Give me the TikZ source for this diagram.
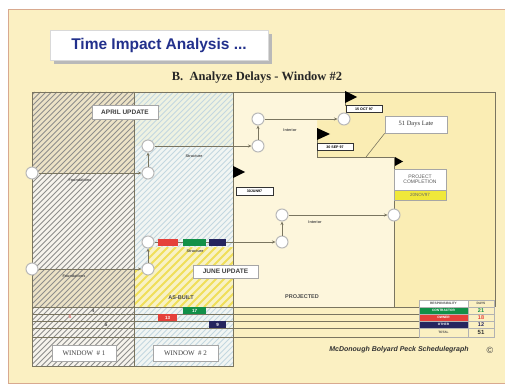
\documentclass[tikz,border=0pt]{standalone}
\usepackage{fontspec}
\setmainfont{Liberation Serif}
\setsansfont{Liberation Sans}
\usetikzlibrary{arrows.meta}

\definecolor{panel}{HTML}{FBF0C2}
\definecolor{panelborder}{HTML}{D8A98F}
\definecolor{proj}{HTML}{FAEDB4}
\definecolor{projlight}{HTML}{FDF6DC}
\definecolor{winone}{HTML}{F6F3EC}
\definecolor{winonebeige}{HTML}{ECE2C6}
\definecolor{wintwo}{HTML}{F1F5F3}
\definecolor{wintwotop}{HTML}{EEF2E2}
\definecolor{hatchone}{HTML}{8E8E8C}
\definecolor{hatchtwo}{HTML}{C3D7E0}
\definecolor{asbuilt}{HTML}{F8F2C6}
\definecolor{hatchyel}{HTML}{F0DF5A}
\definecolor{cred}{HTML}{E5403A}
\definecolor{cgreen}{HTML}{129048}
\definecolor{cnavy}{HTML}{25255F}
\definecolor{titleblue}{HTML}{22308C}
\definecolor{lineg}{HTML}{7A7560}
\definecolor{cyel}{HTML}{F0E83A}

\tikzset{
  ev/.style={circle, draw=gray!55, line width=1pt, fill=white, minimum size=12pt, inner sep=0pt},
  conn/.style={draw=lineg, line width=0.7pt, -{Stealth[length=3.5pt,width=3pt]}},
  datebox/.style={draw=black!80, line width=.5pt, fill=white, font=\sffamily\bfseries\fontsize{3.6}{4}\selectfont, inner sep=0pt, minimum width=36pt, minimum height=7pt},
  updbox/.style={draw=gray!70, line width=.8pt, fill=white, font=\sffamily\bfseries\fontsize{6.5}{7}\selectfont, text=black!75, minimum width=66pt, minimum height=14pt, inner sep=0pt},
  tinylab/.style={font=\sffamily\bfseries\fontsize{3.8}{4}\selectfont, text=black!70},
  zonelab/.style={font=\sffamily\bfseries\fontsize{5.5}{6}\selectfont, text=black!70},
  winbox/.style={draw=gray!70, line width=.6pt, fill=white, font=\fontsize{7}{8}\selectfont, text=black!75, minimum width=64pt, minimum height=16pt, inner sep=0pt},
  daybox/.style={font=\sffamily\bfseries\fontsize{4.5}{5}\selectfont, text=white, minimum height=7pt, inner sep=0pt},
  tcell/.style={font=\sffamily\bfseries\fontsize{3.2}{4}\selectfont, minimum height=7pt, inner sep=0pt, draw=gray!60, line width=.3pt},
  flagtri/.style={fill=black},
  gridline/.style={draw=lineg, line width=.6pt}
}

\begin{document}
\begin{tikzpicture}[x=1pt,y=-1pt]
\clip (0,0) rectangle (505,385);
\useasboundingbox (0,0) rectangle (505,385);
\fill[white] (0,0) rectangle (505,385);
% panel
\fill[panel] (8,10) rectangle (510,383);
\draw[panelborder, line width=1pt] (510,10) -- (8,10) -- (8,383) -- (510,383);

% title
\fill[gray!55] (54,34) rectangle (272,64);
\node[draw=gray!30, fill=white, minimum width=218pt, minimum height=30pt, inner sep=0pt,
      font=\sffamily\bfseries\fontsize{15.5}{17}\selectfont, text=titleblue] (title) at (159,45) {Time Impact Analysis ...};
\node[font=\bfseries\fontsize{12.5}{14}\selectfont, text=black!85] (sub) at (257,78) {B.\ \ Analyze Delays - Window \#2};

% window 1
\fill[winone] (32,92) rectangle (134,366);
\fill[winonebeige] (32,92) rectangle (134,173);
\fill[winonebeige] (32,269) rectangle (134,307);
\begin{scope}
\clip (32,92) rectangle (134,366);
\foreach \k in {-250,-244.5,...,140} \draw[hatchone, line width=.9pt] (\k,366) -- (\k+274,92);
\end{scope}
% window 2
\fill[wintwo] (134,92) rectangle (233,366);
\fill[wintwotop] (134,92) rectangle (233,146);
\begin{scope}
\clip (134,92) rectangle (233,366);
\foreach \k in {-150,-144.5,...,240} \draw[hatchtwo, line width=.9pt] (\k,366) -- (\k+274,92);
\end{scope}
\fill[asbuilt] (149,247) -- (233,247) -- (233,307) -- (134,307) -- (134,269) -- (149,269) -- cycle;
\begin{scope}
\clip (149,247) -- (233,247) -- (233,307) -- (134,307) -- (134,269) -- (149,269) -- cycle;
\foreach \k in {60,68,...,240} \draw[hatchyel, line width=1.8pt] (\k,307) -- (\k+60,247);
\end{scope}

% projected
\fill[proj] (233,92) rectangle (495,307);
\fill[projlight] (233,92) -- (345,92) -- (345,120) -- (317,120) -- (317,157) -- (394,157) -- (394,307) -- (233,307) -- cycle;

% frame and grid
\draw[gridline] (233,92) -- (495,92) -- (495,307);
\draw[gridline] (32,92) rectangle (233,366);
\draw[gridline] (134,92) -- (134,366);
\draw[gridline] (233,92) -- (233,366);
\draw[gridline] (32,307) -- (495,307);
\foreach \yy in {314,321,328,337} \draw[gridline, line width=.5pt] (32,\yy) -- (419,\yy);
\draw[gridline] (317,128) -- (317,157) -- (394,157) -- (394,307);
\draw[gridline] (345,92) -- (345,106);

% flags
\fill[flagtri] (345,91) -- (357,97) -- (345,103) -- cycle;
\fill[flagtri] (317,128) -- (330,134) -- (317,140) -- cycle;
\fill[flagtri] (233,166) -- (245,172) -- (233,178) -- cycle;
\fill[flagtri] (395,157) -- (403,161.5) -- (395,166) -- cycle;

\node[datebox] (d15) at (364,109) {15 OCT 97};
\node[datebox] (d30s) at (335,147) {30 SEP 97};
\node[datebox, minimum width=37pt, minimum height=8pt] (d30j) at (254.5,191) {30JUN97};

% update boxes
\node[updbox] (april) at (125,112) {APRIL UPDATE};
\node[updbox, minimum width=65pt, minimum height=13pt] (june) at (225.5,271.5) {JUNE UPDATE};

% 51 days late
\node[draw=gray!70, line width=.6pt, fill=white, minimum width=62pt, minimum height=17pt, inner sep=0pt,
      font=\fontsize{6.5}{7}\selectfont, text=black!80] (late) at (416,124.5) {51 Days Late};
\coordinate (lateend) at (366,157);
\draw[lineg, line width=.6pt] (late.south west) -- (lateend);

% project completion
\node[draw=gray!70, line width=.6pt, fill=white, minimum width=52pt, minimum height=21pt, inner sep=0pt,
      font=\sffamily\fontsize{5}{5.5}\selectfont, text=black!65, align=center] (pc) at (420,179.5) {PROJECT\\COMPLETION};
\node[draw=gray!70, line width=.6pt, fill=cyel, minimum width=52pt, minimum height=10pt, inner sep=0pt,
      font=\sffamily\fontsize{4.5}{5}\selectfont, text=black!60] (pcd) at (420,195) {20NOV97};

% events row 1 (April)
\node[ev] (a1) at (32,173) {};
\node[ev] (a2) at (148,173) {};
\node[ev] (a3) at (148,146) {};
\node[ev] (a4) at (258,146) {};
\node[ev] (a5) at (258,119) {};
\node[ev] (a6) at (344,119) {};
\draw[conn] (a1) -- (a2);
\draw[conn] (a2) -- (a3);
\draw[conn] (a3) -- (a4);
\draw[conn] (a4) -- (a5);
\draw[conn] (a5) -- (a6);
\node[tinylab] (fa) at (80,180) {Foundations};
\node[tinylab] (sa) at (194,156) {Structure};
\node[tinylab] (ia) at (290,130) {Interior};

% events row 2 (June)
\node[ev] (b1) at (32,269) {};
\node[ev] (b2) at (148,269) {};
\node[ev] (b3) at (148,242) {};
\node[ev] (b4) at (282,242) {};
\node[ev] (b5) at (282,215) {};
\node[ev] (b6) at (394,215) {};
\draw[conn] (b1) -- (b2);
\draw[conn] (b2) -- (b3);
\draw[conn] (b3) -- (b4);
\draw[conn] (b4) -- (b5);
\draw[conn] (b5) -- (b6);
\fill[cred] (158,239) rectangle (178,245.5);
\fill[cgreen] (183,239) rectangle (206,245.5);
\fill[cnavy] (209,239) rectangle (226,245.5);
\node[tinylab] (fb) at (74,276) {Foundations};
\node[tinylab] (sb) at (195,251) {Structure};
\node[tinylab] (ib) at (315,222) {Interior};

% zone labels
\node[zonelab] (asb) at (181,298) {AS-BUILT};
\node[zonelab] (prj) at (302,297) {PROJECTED};

% day boxes
\node[daybox, fill=cgreen, minimum width=23pt] (g17) at (194.5,310.5) {17};
\node[daybox, fill=cred, minimum width=19pt] (r13) at (167.5,317.5) {13};
\node[daybox, fill=cnavy, minimum width=17pt] (n9) at (217.5,324.5) {9};
\node[font=\sffamily\bfseries\fontsize{5}{5}\selectfont, text=cred!70] (m1) at (70,317) {5};
\node[font=\sffamily\bfseries\fontsize{5}{5}\selectfont, text=black!70] (m2) at (93,311) {4};
\node[font=\sffamily\bfseries\fontsize{5}{5}\selectfont, text=black!70] (m3) at (106,325) {5};

% responsibility table
\node[tcell, fill=white, minimum width=49pt, text=black!70] (th1) at (443.5,303.5) {RESPONSIBILITY};
\node[tcell, fill=panel, minimum width=26pt, text=black!70] (th2) at (481,303.5) {DAYS};
\node[tcell, fill=cgreen, minimum width=49pt, text=white] (t11) at (443.5,310.5) {CONTRACTOR};
\node[tcell, fill=panel, minimum width=26pt, text=cgreen, font=\sffamily\bfseries\fontsize{5.5}{6}\selectfont] (t12) at (481,310.5) {21};
\node[tcell, fill=cred, minimum width=49pt, text=white] (t21) at (443.5,317.5) {OWNER};
\node[tcell, fill=panel, minimum width=26pt, text=cred, font=\sffamily\bfseries\fontsize{5.5}{6}\selectfont] (t22) at (481,317.5) {18};
\node[tcell, fill=cnavy, minimum width=49pt, text=white] (t31) at (443.5,324.5) {OTHER};
\node[tcell, fill=panel, minimum width=26pt, text=cnavy, font=\sffamily\bfseries\fontsize{5.5}{6}\selectfont] (t32) at (481,324.5) {12};
\node[tcell, fill=panel, minimum width=49pt, minimum height=9pt, text=black!70] (t41) at (443.5,332.5) {TOTAL};
\node[tcell, fill=panel, minimum width=26pt, minimum height=9pt, text=black!80, font=\sffamily\bfseries\fontsize{6}{6}\selectfont] (t42) at (481,332.5) {51};

% window boxes
\node[winbox] (w1) at (84,353) {WINDOW \ \# 1};
\node[winbox, minimum width=65pt] (w2) at (185.5,353) {WINDOW \ \# 2};

% signature
\node[font=\sffamily\bfseries\itshape\fontsize{7}{8}\selectfont, text=black!80] (sig) at (399,350) {McDonough Bolyard Peck Schedulegraph};
\node[font=\sffamily\fontsize{9}{9}\selectfont, text=black!75] (copy) at (490,350) {©};
\end{tikzpicture}
\end{document}
